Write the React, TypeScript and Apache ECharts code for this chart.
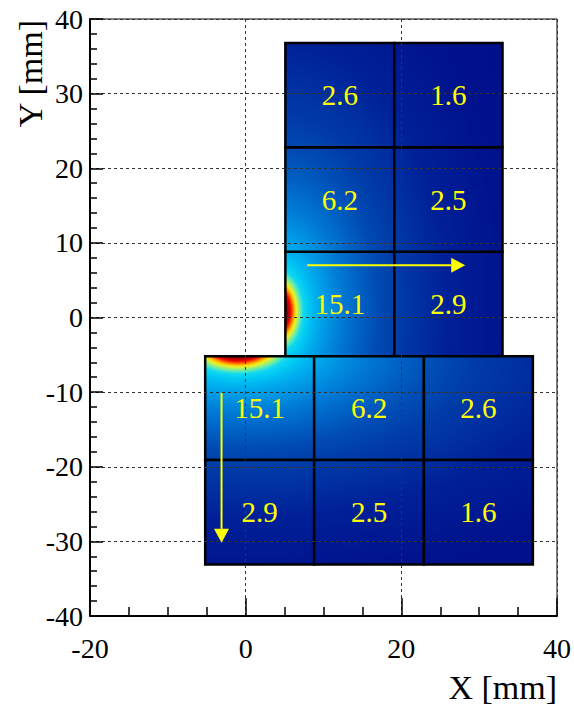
import React, { useEffect, useRef } from "react";
import * as echarts from "echarts";

// Detector tile layout (mm) and the value printed in each tile
const upperXEdges = [5.1, 19.1, 33.0];
const upperYEdges = [-5.2, 8.8, 22.8, 36.8];
const upperValues = [
  [15.1, 2.9],
  [6.2, 2.5],
  [2.6, 1.6],
];
const lowerXEdges = [-5.2, 8.8, 22.9, 36.9];
const lowerYEdges = [-5.2, -19.1, -33.1];
const lowerValues = [
  [15.1, 6.2, 2.6],
  [2.9, 2.5, 1.6],
];

// Scan-direction arrows (mm)
const arrowStarts = [
  [7.9, 7.0],
  [-3.1, -10.1],
];
const arrowEnds = [
  [28.2, 7.0],
  [-3.1, -30.2],
];

// Axis ranges and tick steps
const xRange = [-20, 40];
const xStep = 20;
const yRange = [-40, 40];
const yStep = 10;

// Field hot spot for each tile block (mm) and its elongation along the block edge
const fieldCenters = [
  [4.1, 0.9],
  [-1.0, -4.1],
];
const fieldStretch = [
  [1, 1.6],
  [2.0, 1],
];

// Field colour ramp: [radius in px, colour]
const FIELD_R = 400;
const fieldRamp: [number, string][] = [
  [0, "#800000"],
  [9, "#880000"],
  [11, "#b80000"],
  [13, "#e80800"],
  [14.5, "#ff4000"],
  [16, "#ff9000"],
  [17.5, "#ffd000"],
  [19, "#e8f030"],
  [21, "#a0f070"],
  [23.5, "#50e8c0"],
  [26, "#10d8f0"],
  [31, "#00c8f4"],
  [37, "#00b4f0"],
  [45, "#00a0e8"],
  [55, "#008cde"],
  [66, "#0078d4"],
  [82, "#0062c4"],
  [100, "#004cb4"],
  [120, "#003ca8"],
  [170, "#002098"],
  [230, "#00128c"],
  [400, "#000a88"],
];

const SERIF = "Liberation Serif";

function buildTiles(xe: number[], ye: number[], vals: number[][], block: number) {
  const out: number[][] = [];
  for (let r = 0; r < vals.length; r++) {
    for (let c = 0; c < vals[r].length; c++) {
      out.push([xe[c], xe[c + 1], ye[r], ye[r + 1], vals[r][c], block]);
    }
  }
  return out;
}

export default function App() {
  const ref = useRef<HTMLDivElement>(null);

  useEffect(() => {
    if (!ref.current) return;
    const chart = echarts.init(ref.current, undefined, { renderer: "svg" });

    const tiles = [
      ...buildTiles(upperXEdges, upperYEdges, upperValues, 0),
      ...buildTiles(lowerXEdges, lowerYEdges, lowerValues, 1),
    ];
    const arrows = arrowStarts.map((s, i) => [s[0], s[1], arrowEnds[i][0], arrowEnds[i][1]]);

    const colorStops = fieldRamp.map(([d, color]) => ({ offset: d / FIELD_R, color }));

    const tickStyle = { color: "#000", width: 1.5 };

    chart.setOption({
      animation: false,
      grid: {
        left: 90,
        top: 19,
        right: 17,
        bottom: 89,
        show: true,
        borderColor: "#000",
        borderWidth: 1,
        backgroundColor: "transparent",
      },
      xAxis: {
        type: "value",
        min: xRange[0],
        max: xRange[1],
        interval: xStep,
        z: 3,
        axisLine: { show: true, onZero: false, lineStyle: { color: "#000", width: 2 } },
        axisTick: { show: true, inside: true, length: 18, lineStyle: tickStyle },
        minorTick: { show: true, splitNumber: 4, length: 9, lineStyle: tickStyle },
        splitLine: { show: true, lineStyle: { color: "#333", width: 1, type: [3, 3] } },
        axisLabel: { fontFamily: SERIF, fontSize: 28, color: "#000", margin: 18 },
      },
      yAxis: {
        type: "value",
        min: yRange[0],
        max: yRange[1],
        interval: yStep,
        z: 3,
        axisLine: { show: true, onZero: false, lineStyle: { color: "#000", width: 2 } },
        axisTick: { show: true, inside: true, length: 13, lineStyle: tickStyle },
        minorTick: { show: true, splitNumber: 5, length: 7, lineStyle: tickStyle },
        splitLine: { show: true, lineStyle: { color: "#333", width: 1, type: [3, 3] } },
        axisLabel: { fontFamily: SERIF, fontSize: 28, color: "#000", margin: 7 },
      },
      graphic: [
        {
          type: "text",
          x: 557,
          y: 687,
          style: {
            text: "X [mm]",
            fontFamily: SERIF,
            fontSize: 34,
            fill: "#000",
            align: "right",
            verticalAlign: "middle",
          },
        },
        {
          type: "text",
          x: 30,
          y: 20,
          rotation: Math.PI / 2,
          style: {
            text: "Y [mm]",
            fontFamily: SERIF,
            fontSize: 34,
            fill: "#000",
            align: "right",
            verticalAlign: "middle",
          },
        },
      ],
      series: [
        {
          type: "custom",
          name: "tiles",
          z: 1,
          data: tiles,
          encode: { x: [0, 1], y: [2, 3] },
          renderItem: (_params: any, api: any) => {
            const p0 = api.coord([api.value(0), api.value(2)]);
            const p1 = api.coord([api.value(1), api.value(3)]);
            const block = api.value(5);
            const c = api.coord(fieldCenters[block]);
            const [sx, sy] = fieldStretch[block];
            const x = Math.min(p0[0], p1[0]);
            const y = Math.min(p0[1], p1[1]);
            const w = Math.abs(p1[0] - p0[0]);
            const h = Math.abs(p1[1] - p0[1]);
            return {
              type: "group",
              children: [
                {
                  // filled in a stretched frame so the circular gradient becomes elliptical
                  type: "rect",
                  originX: c[0],
                  originY: c[1],
                  scaleX: sx,
                  scaleY: sy,
                  shape: {
                    x: c[0] + (x - c[0]) / sx,
                    y: c[1] + (y - c[1]) / sy,
                    width: w / sx,
                    height: h / sy,
                  },
                  style: {
                    fill: {
                      type: "radial",
                      x: c[0],
                      y: c[1],
                      r: FIELD_R,
                      global: true,
                      colorStops,
                    },
                  },
                },
                {
                  type: "rect",
                  shape: { x, y, width: w, height: h },
                  style: { fill: "none", stroke: "#000", lineWidth: 2.5 },
                },
              ],
            };
          },
        },
        {
          type: "custom",
          name: "values",
          z: 6,
          data: tiles,
          encode: { x: [0, 1], y: [2, 3] },
          renderItem: (_params: any, api: any) => {
            const p = api.coord([
              (api.value(0) + api.value(1)) / 2,
              (api.value(2) + api.value(3)) / 2,
            ]);
            return {
              type: "text",
              x: p[0],
              y: p[1],
              style: {
                text: api.value(4).toFixed(1),
                fontFamily: SERIF,
                fontSize: 29,
                fill: "#ffff00",
                align: "center",
                verticalAlign: "middle",
              },
            };
          },
        },
        {
          type: "custom",
          name: "arrows",
          z: 6,
          data: arrows,
          encode: { x: [0, 2], y: [1, 3] },
          renderItem: (_params: any, api: any) => {
            const a = api.coord([api.value(0), api.value(1)]);
            const b = api.coord([api.value(2), api.value(3)]);
            const dx = b[0] - a[0];
            const dy = b[1] - a[1];
            const len = Math.hypot(dx, dy);
            const ux = dx / len;
            const uy = dy / len;
            const headLen = 14;
            const headHalf = 7.5;
            const base = [b[0] - ux * headLen, b[1] - uy * headLen];
            return {
              type: "group",
              children: [
                {
                  type: "line",
                  shape: { x1: a[0], y1: a[1], x2: base[0], y2: base[1] },
                  style: { stroke: "#ffff00", lineWidth: 2 },
                },
                {
                  type: "polygon",
                  shape: {
                    points: [
                      [b[0], b[1]],
                      [base[0] - uy * headHalf, base[1] + ux * headHalf],
                      [base[0] + uy * headHalf, base[1] - ux * headHalf],
                    ],
                  },
                  style: { fill: "#ffff00" },
                },
              ],
            };
          },
        },
      ],
    });

    return () => chart.dispose();
  }, []);

  return (
    <div
      ref={ref}
      style={{ position: "fixed", left: 0, top: 0, width: 574, height: 705, background: "#fff" }}
    />
  );
}
